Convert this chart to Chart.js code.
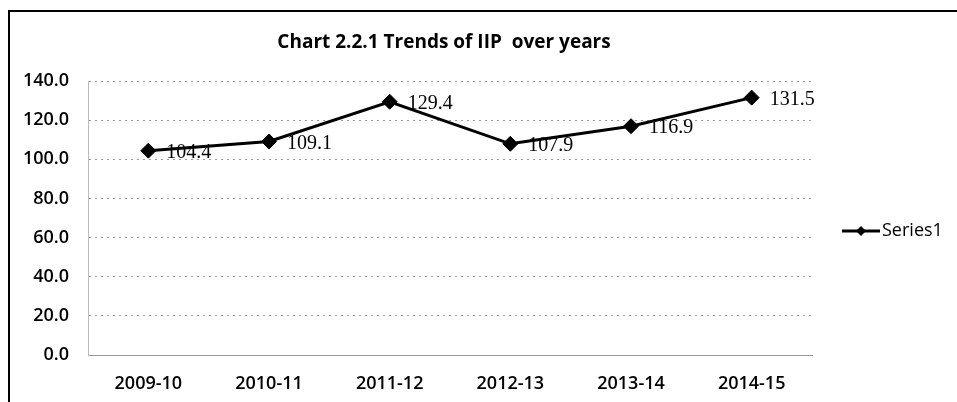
<!DOCTYPE html>
<html>
<head>
<meta charset="utf-8">
<script src="https://cdn.jsdelivr.net/npm/chart.js@4"></script>
<style>
  html, body { margin: 0; padding: 0; background: #fff; }
  #wrap { position: relative; width: 957px; height: 402px; overflow: hidden; }
  #frame { position: absolute; left: 8px; top: 10px; width: 1000px; height: 500px; border: 2px solid #000; }
  #c { position: absolute; left: 0; top: 0; }
</style>
</head>
<body>
<div id="wrap">
  <div id="frame"></div>
  <canvas id="c" width="957" height="402"></canvas>
</div>
<script>
// data
const categories = ["2009-10", "2010-11", "2011-12", "2012-13", "2013-14", "2014-15"];
const iipValues = [104.4, 109.1, 129.4, 107.9, 116.9, 131.5];
const yTicks = [0, 20, 40, 60, 80, 100, 120, 140];
const chartTitle = "Chart 2.2.1 Trends of IIP  over years";
const seriesName = "Series1";

const tickFont = { family: "'Open Sans', sans-serif", size: 18, weight: "600" };

// title, value labels and legend drawn after the chart
const extras = {
  id: "extras",
  afterDraw(chart) {
    const ctx = chart.ctx;
    ctx.save();

    // title
    ctx.fillStyle = "#000";
    ctx.font = "bold 19px 'Open Sans', sans-serif";
    ctx.textAlign = "center";
    ctx.textBaseline = "middle";
    ctx.fillText(chartTitle, 444, 43);

    // value labels
    const meta = chart.getDatasetMeta(0);
    ctx.font = "20px 'Liberation Serif', serif";
    ctx.textAlign = "left";
    meta.data.forEach((pt, i) => {
      ctx.fillText(iipValues[i].toFixed(1), pt.x + 18, pt.y + 2);
    });

    // legend
    const ly = 231;
    ctx.strokeStyle = "#000";
    ctx.lineWidth = 3;
    ctx.beginPath();
    ctx.moveTo(842, ly);
    ctx.lineTo(880, ly);
    ctx.stroke();
    ctx.beginPath();
    ctx.moveTo(861, ly - 5);
    ctx.lineTo(866, ly);
    ctx.lineTo(861, ly + 5);
    ctx.lineTo(856, ly);
    ctx.closePath();
    ctx.fillStyle = "#000";
    ctx.fill();
    ctx.font = "18px 'Open Sans', sans-serif";
    ctx.fillText(seriesName, 882, ly);
    ctx.restore();
  }
};

new Chart(document.getElementById("c"), {
  type: "line",
  data: {
    labels: categories,
    datasets: [{
      label: seriesName,
      data: iipValues,
      borderColor: "#000",
      backgroundColor: "#000",
      borderWidth: 3,
      tension: 0,
      pointStyle: "rectRot",
      pointRadius: 7.5,
      pointBackgroundColor: "#000",
      pointBorderColor: "#000",
      pointBorderWidth: 1,
    }],
  },
  options: {
    responsive: false,
    animation: false,
    layout: { padding: { left: 0, right: 145, top: 81, bottom: 0 } },
    plugins: { legend: { display: false }, tooltip: { enabled: false } },
    scales: {
      x: {
        offset: true,
        grid: { display: false, drawTicks: false },
        border: { display: true, color: "#999", width: 1, dash: [2, 3] },
        ticks: { color: "#000", font: tickFont, padding: 18, maxRotation: 0 },
        afterFit(scale) { scale.height = 47; },
      },
      y: {
        min: 0,
        max: 140,
        afterBuildTicks(scale) { scale.ticks = yTicks.map(v => ({ value: v })); },
        grid: { color: "#999", drawTicks: false, lineWidth: 1 },
        border: { display: true, color: "#bbb", width: 1, dash: [2, 4] },
        ticks: {
          color: "#000",
          font: tickFont,
          padding: 19,
          callback: v => Number(v).toFixed(1),
        },
        afterFit(scale) { scale.width = 88; },
      },
    },
  },
  plugins: [extras],
});
</script>
</body>
</html>
